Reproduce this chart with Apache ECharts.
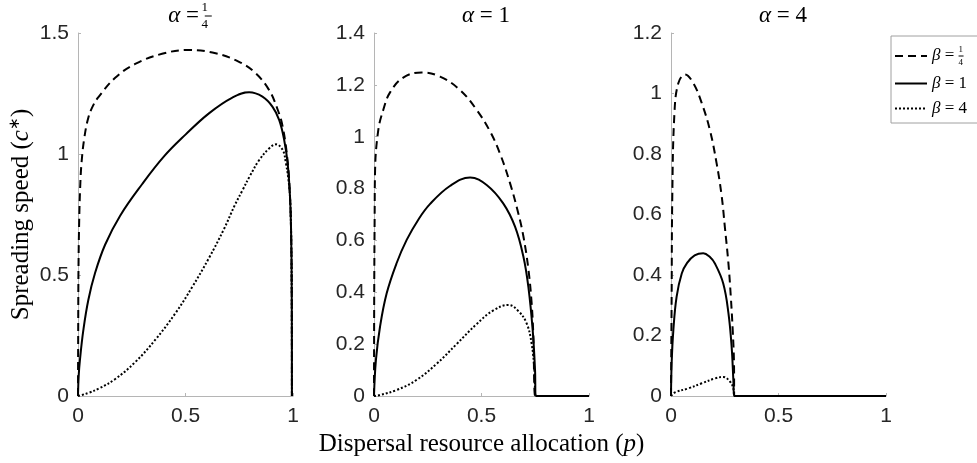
<!DOCTYPE html>
<html>
<head>
<meta charset="utf-8">
<script src="https://cdn.jsdelivr.net/npm/echarts@6/dist/echarts.min.js"></script>
<style>
  html, body { margin: 0; padding: 0; background: #fff; }
  #chart { width: 977px; height: 463px; }
</style>
</head>
<body>
<div id="chart"></div>
<script>
// values, [p, c*]
// alpha = 1/4
var a1_b025 = [[0, 0], [0.001, 0.3], [0.002, 0.5], [0.005, 0.7], [0.01, 0.86], [0.017, 0.97], [0.03, 1.07],
  [0.048, 1.15], [0.07, 1.2], [0.095, 1.235], [0.173, 1.315], [0.266, 1.372], [0.391, 1.414], [0.515, 1.43],
  [0.64, 1.416], [0.749, 1.381], [0.827, 1.333], [0.889, 1.264], [0.928, 1.185], [0.952, 1.113], [0.975, 0.97],
  [0.986, 0.824], [0.991, 0.686], [0.994, 0.45], [0.995, 0]];
var a1_b1 = [[0, 0], [0.003, 0.08], [0.009, 0.149], [0.025, 0.273], [0.048, 0.397], [0.079, 0.507], [0.126, 0.625],
  [0.196, 0.745], [0.298, 0.875], [0.4, 0.99], [0.5, 1.08], [0.609, 1.168], [0.718, 1.233], [0.796, 1.255],
  [0.858, 1.237], [0.905, 1.195], [0.936, 1.14], [0.959, 1.058], [0.975, 0.962], [0.986, 0.824], [0.991, 0.686],
  [0.994, 0.45], [0.995, 0]];
var a1_b4 = [[0, 0], [0.017, 0.004], [0.05, 0.013], [0.1, 0.032], [0.173, 0.07], [0.266, 0.14], [0.36, 0.233],
  [0.453, 0.342], [0.531, 0.45], [0.609, 0.57], [0.679, 0.69], [0.73, 0.79], [0.765, 0.85], [0.8, 0.91],
  [0.843, 0.975], [0.889, 1.023], [0.921, 1.04], [0.952, 1.017], [0.967, 0.962], [0.978, 0.9], [0.986, 0.824],
  [0.991, 0.686], [0.994, 0.45], [0.995, 0]];

// alpha = 1
var a2_b025 = [[0, 0], [0.001, 0.4], [0.003, 0.69], [0.005, 0.87], [0.02, 1.026], [0.043, 1.103], [0.074, 1.17],
  [0.136, 1.228], [0.222, 1.248], [0.307, 1.232], [0.4, 1.18], [0.478, 1.103], [0.54, 1.02], [0.586, 0.935],
  [0.633, 0.82], [0.671, 0.705], [0.695, 0.615], [0.718, 0.49], [0.733, 0.36], [0.741, 0.235], [0.75, 0],
  [0.76, 0], [1, 0]];
var a2_b1 = [[0, 0], [0.009, 0.139], [0.028, 0.267], [0.059, 0.396], [0.105, 0.512], [0.152, 0.602], [0.206, 0.68],
  [0.26, 0.74], [0.353, 0.81], [0.447, 0.843], [0.524, 0.814], [0.601, 0.743], [0.656, 0.653], [0.695, 0.537],
  [0.718, 0.421], [0.738, 0.255], [0.749, 0.1], [0.752, 0], [0.76, 0], [1, 0]];
var a2_b4 = [[0, 0], [0.028, 0.004], [0.105, 0.023], [0.198, 0.062], [0.291, 0.124], [0.384, 0.2], [0.478, 0.278],
  [0.555, 0.33], [0.625, 0.351], [0.671, 0.328], [0.71, 0.28], [0.733, 0.203], [0.746, 0.1], [0.752, 0],
  [0.76, 0], [1, 0]];

// alpha = 4
var a3_b025 = [[0, 0], [0.003, 0.328], [0.006, 0.659], [0.016, 0.935], [0.034, 1.034], [0.065, 1.063], [0.104, 1.034],
  [0.143, 0.968], [0.181, 0.879], [0.212, 0.77], [0.235, 0.665], [0.251, 0.555], [0.267, 0.439], [0.278, 0.33],
  [0.287, 0.218], [0.293, 0.108], [0.294, 0], [0.3, 0], [1, 0]];
var a3_b1 = [[0, 0], [0.003, 0.108], [0.011, 0.218], [0.026, 0.328], [0.05, 0.405], [0.075, 0.44], [0.11, 0.465],
  [0.15, 0.472], [0.18, 0.46], [0.205, 0.437], [0.243, 0.372], [0.267, 0.275], [0.282, 0.163], [0.29, 0.053],
  [0.294, 0], [0.3, 0], [1, 0]];
var a3_b4 = [[0, 0], [0.019, 0.012], [0.08, 0.025], [0.143, 0.042], [0.205, 0.058], [0.243, 0.063], [0.274, 0.048],
  [0.29, 0.025], [0.294, 0], [0.3, 0], [1, 0]];

var yMax = [1.5, 1.4, 1.2];
var yStep = [0.5, 0.2, 0.2];
var gridLeft = [78, 374, 671];

var chart = echarts.init(document.getElementById('chart'));

var serif = 'Liberation Serif';
var sans = 'Liberation Sans';
var frac = {
  g: { fontFamily: serif, fontStyle: 'italic', fontWeight: 'normal', fontSize: 23, lineHeight: 30 },
  t: { fontFamily: serif, fontWeight: 'normal', fontSize: 23, lineHeight: 30 },
  n: { fontFamily: serif, fontWeight: 'normal', fontSize: 13, lineHeight: 15, verticalAlign: 'top', width: 0 },
  d: { fontFamily: serif, fontWeight: 'normal', fontSize: 13, lineHeight: 15, verticalAlign: 'bottom', width: 0 },
  bar: { width: 7, height: 1, backgroundColor: '#000', verticalAlign: 'middle', fontSize: 1, lineHeight: 1 }
};
var legFrac = {
  g: { fontFamily: serif, fontStyle: 'italic', fontSize: 17, lineHeight: 22 },
  t: { fontFamily: serif, fontSize: 17, lineHeight: 22 },
  n: { fontFamily: serif, fontSize: 9, lineHeight: 10, verticalAlign: 'top', width: 0 },
  d: { fontFamily: serif, fontSize: 9, lineHeight: 10, verticalAlign: 'bottom', width: 0 },
  bar: { width: 5, height: 1, backgroundColor: '#000', verticalAlign: 'middle', fontSize: 1, lineHeight: 1 }
};

var titleTexts = [
  '{g|α}{t| = }{n|1}{d|4}{bar| }',
  '{g|α}{t| = 1}',
  '{g|α}{t| = 4}'
];

var grids = [], xAxes = [], yAxes = [], titles = [];
for (var i = 0; i < 3; i++) {
  grids.push({ left: gridLeft[i], top: 33, width: 215, height: 363 });
  titles.push({
    text: titleTexts[i],
    left: gridLeft[i] + 107,
    top: -4,
    textAlign: 'center',
    textStyle: { color: '#000', fontWeight: 'normal', rich: frac }
  });
  xAxes.push({
    gridIndex: i, type: 'value', min: 0, max: 1, interval: 0.5,
    axisLine: { lineStyle: { color: '#b5b5b5', width: 1 } },
    axisTick: { inside: true, length: 3, lineStyle: { color: '#b5b5b5' } },
    axisLabel: { color: '#262626', fontFamily: sans, fontSize: 21, margin: 10 },
    splitLine: { show: false },
    name: i === 1 ? '{t|Dispersal resource allocation (}{i|p}{t|)}' : '',
    nameLocation: 'middle',
    nameGap: 35,
    nameTextStyle: {
      rich: {
        t: { fontFamily: serif, fontSize: 25, color: '#000' },
        i: { fontFamily: serif, fontStyle: 'italic', fontSize: 25, color: '#000' }
      }
    }
  });
  yAxes.push({
    gridIndex: i, type: 'value', min: 0, max: yMax[i], interval: yStep[i],
    axisLine: { show: true, lineStyle: { color: '#b5b5b5', width: 1 } },
    axisTick: { show: true, inside: true, length: 3, lineStyle: { color: '#b5b5b5' } },
    axisLabel: { color: '#262626', fontFamily: sans, fontSize: 21, margin: 9 },
    splitLine: { show: false },
    name: i === 0 ? '{t|Spreading speed (}{i|c}{s|∗}{t|)}' : '',
    nameLocation: 'middle',
    nameGap: 44,
    nameTextStyle: {
      rich: {
        t: { fontFamily: serif, fontSize: 25, color: '#000', lineHeight: 26 },
        i: { fontFamily: serif, fontStyle: 'italic', fontSize: 25, color: '#000', lineHeight: 26 },
        s: { fontFamily: serif, fontSize: 15, color: '#000', verticalAlign: 'top', lineHeight: 15 }
      }
    }
  });
}

var panelData = [
  [a1_b025, a1_b1, a1_b4],
  [a2_b025, a2_b1, a2_b4],
  [a3_b025, a3_b1, a3_b4]
];
var lineTypes = [[8, 5], 'solid', [2, 2]];
var legendNames = ['β = 1/4', 'β = 1', 'β = 4'];

var series = [];
// dotted first, solid last so it sits on top
[2, 0, 1].forEach(function (k) {
  for (var i = 0; i < 3; i++) {
    series.push({
      name: legendNames[k],
      type: 'line',
      xAxisIndex: i,
      yAxisIndex: i,
      data: panelData[i][k],
      showSymbol: false,
      symbol: 'none',
      smooth: 0.4,
      lineStyle: { color: '#000', width: 2, type: lineTypes[k] },
      itemStyle: { color: '#000' },
      animation: false
    });
  }
});

chart.setOption({
  backgroundColor: '#fff',
  animation: false,
  title: titles,
  grid: grids,
  xAxis: xAxes,
  yAxis: yAxes,
  legend: {
    data: legendNames,
    orient: 'vertical',
    left: 891,
    top: 36,
    padding: [9, 14, 6, 3],
    itemWidth: 32,
    itemHeight: 14,
    itemGap: 8,
    borderColor: '#a0a0a0',
    borderWidth: 1,
    backgroundColor: '#fff',
    selectedMode: false,
    itemStyle: { opacity: 0 },
    formatter: function (name) {
      if (name === 'β = 1/4') return '{g|β}{t| = }{n|1}{d|4}{bar| }';
      return '{g|β}{t|' + name.slice(1) + '}';
    },
    textStyle: { color: '#000', rich: legFrac }
  },
  series: series
});
</script>
</body>
</html>
